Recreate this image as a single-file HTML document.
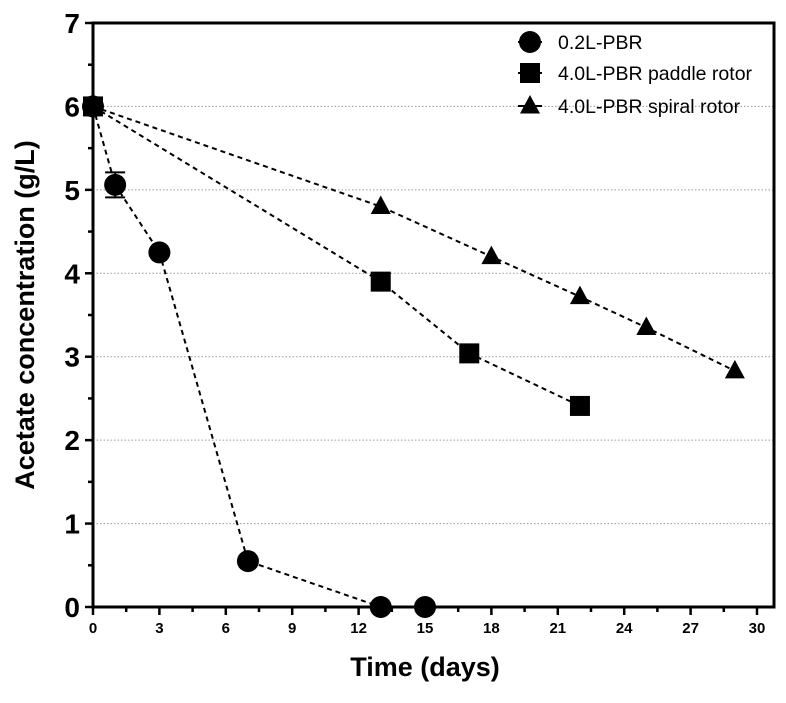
<!DOCTYPE html>
<html><head><meta charset="utf-8"><style>
body{margin:0;background:#fff;}
svg text{font-family:"Liberation Sans",Arial,sans-serif;}
</style></head><body>
<svg id="chart" width="786" height="698" xmlns="http://www.w3.org/2000/svg"></svg>
<script>
const xTicks=[0,3,6,9,12,15,18,21,24,27,30];
const yTicks=[0,1,2,3,4,5,6,7];
const s1Name="0.2L-PBR", s2Name="4.0L-PBR paddle rotor", s3Name="4.0L-PBR spiral rotor";
const s1X=[0,1,3,7,13,15], s1Y=[6,5.06,4.25,0.55,0,0];
const s2X=[0,13,17,22], s2Y=[6,3.9,3.04,2.41];
const s3X=[0,13,18,22,25,29], s3Y=[6,4.8,4.2,3.72,3.35,2.83];
const s1Err=[0,0.15,0,0,0,0];

const svg=document.getElementById('chart');
const NS='http://www.w3.org/2000/svg';
const X0=93,X1=757,Y0=607,Y1=23,RIGHT=774;
const sx=v=>X0+(v-0)/(30-0)*(X1-X0);
const sy=v=>Y0-(v-0)/(7-0)*(Y0-Y1);
function el(t,a,p){const e=document.createElementNS(NS,t);for(const k in a)e.setAttribute(k,a[k]);(p||svg).appendChild(e);return e;}

yTicks.forEach(t=>{if(t>0&&t<7){const g=el('line',{x1:X0,x2:RIGHT,y1:sy(t),y2:sy(t),stroke:'#999','stroke-width':1,'stroke-dasharray':'1.5,2'});

}});
const fr=el('path',{d:`M${X0},${Y0} L${X0},${Y1} L${RIGHT},${Y1} L${RIGHT},${Y0} Z`,fill:'none',stroke:'#000','stroke-width':3});


xTicks.forEach(t=>{el('line',{x1:sx(t),x2:sx(t),y1:Y0,y2:Y0+8,stroke:'#000','stroke-width':2.5});
const tx=el('text',{x:sx(t),y:Y0+26,'text-anchor':'middle','font-size':15,'font-weight':'bold'});tx.textContent=t;

});
for(let t=1.5;t<30;t+=3){el('line',{x1:sx(t),x2:sx(t),y1:Y0,y2:Y0+5,stroke:'#000','stroke-width':2.5});}
yTicks.forEach(t=>{el('line',{x1:X0-8,x2:X0,y1:sy(t),y2:sy(t),stroke:'#000','stroke-width':2.5});
const tx=el('text',{x:X0-13,y:sy(t)+10,'text-anchor':'end','font-size':28,'font-weight':'bold'});tx.textContent=t;

});
for(let t=0.5;t<7;t+=1){el('line',{x1:X0-5,x2:X0,y1:sy(t),y2:sy(t),stroke:'#000','stroke-width':2.5});}
const xt=el('text',{x:425,y:676,'text-anchor':'middle','font-size':27,'font-weight':'bold'});xt.textContent='Time (days)';


const yt=el('text',{x:0,y:0,'text-anchor':'middle','font-size':27,'font-weight':'bold',transform:`translate(34,315) rotate(-90)`});yt.textContent='Acetate concentration (g/L)';



function marker(type,cx,cy,size){
 if(type==='c')return el('circle',{cx,cy,r:size+1,fill:'#000'});
 if(type==='s')return el('rect',{x:cx-size,y:cy-size,width:2*size,height:2*size,fill:'#000'});
 return el('polygon',{points:`${cx},${cy-size*1.1} ${cx-size},${cy+size*0.75} ${cx+size},${cy+size*0.75}`,fill:'#000'});
}
function series(xs,ys,type,size,name){
 const pts=xs.map((x,i)=>sx(x)+','+sy(ys[i])).join(' ');
 const l=el('polyline',{points:pts,fill:'none',stroke:'#000','stroke-width':2,'stroke-dasharray':'5,4'});
 
 
 xs.forEach((x,i)=>{const m=marker(type,sx(x),sy(ys[i]),size);
 
 });
}
s1X.forEach((x,i)=>{if(s1Err[i]>0){const cx=sx(x),a=sy(s1Y[i]+s1Err[i]),b=sy(s1Y[i]-s1Err[i]);
el('line',{x1:cx,x2:cx,y1:a,y2:b,stroke:'#000','stroke-width':2});
el('line',{x1:cx-10,x2:cx+10,y1:a,y2:a,stroke:'#000','stroke-width':2});
el('line',{x1:cx-10,x2:cx+10,y1:b,y2:b,stroke:'#000','stroke-width':2});}});
series(s3X,s3Y,'t',10,'spiral-rotor');
series(s2X,s2Y,'s',10,'paddle-rotor');
series(s1X,s1Y,'c',10,'pbr-02l');

const lg=[[s1Name,'c',42],[s2Name,'s',73],[s3Name,'t',106]];
lg.forEach(([n,t,y])=>{
 el('line',{x1:518,x2:542,y1:y,y2:y,stroke:'#000','stroke-width':2});
 const m=marker(t,530,y,10);
 
 
 const tx=el('text',{x:558,y:y+7,'font-size':19.5});tx.textContent=n;
 
 
});
</script>
</body></html>
